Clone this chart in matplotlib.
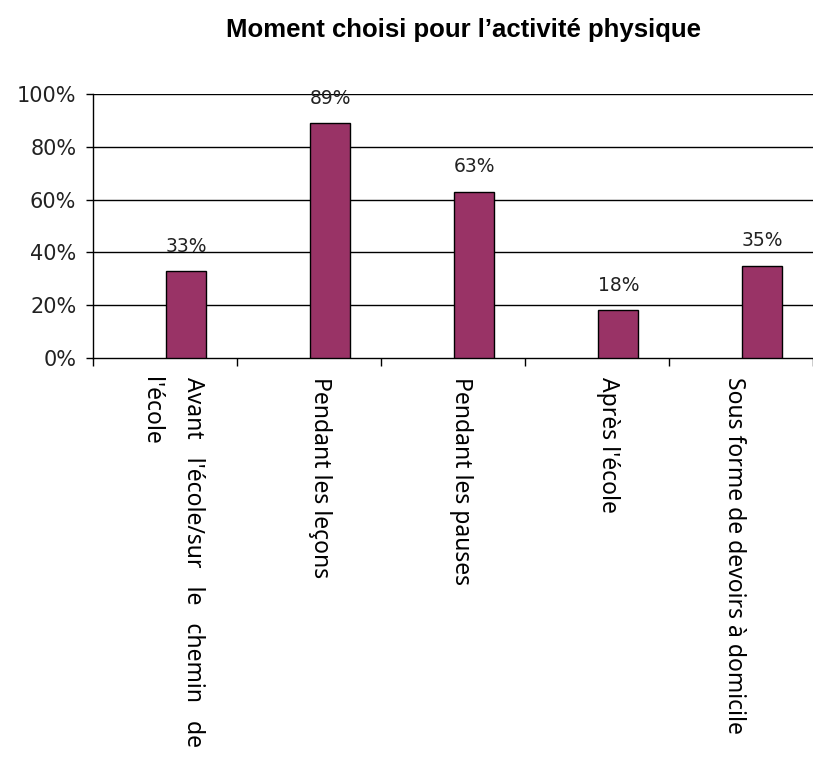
import numpy as np
import matplotlib.pyplot as plt

# Données
categories = [
    "Avant   l'école/sur   le   chemin   de\nl'école",
    "Pendant les leçons",
    "Pendant les pauses",
    "Après l'école",
    "Sous forme de devoirs à domicile",
]
valeurs = [33, 89, 63, 18, 35]
yticks = [0, 20, 40, 60, 80, 100]

couleur_barre = '#993366'

fig = plt.figure(figsize=(8.13, 7.6), dpi=100)
ax = fig.add_axes([93 / 813, 1 - 358 / 760, 720 / 813, 264 / 760])

x = np.arange(len(valeurs))
bars = ax.bar(x, valeurs, width=0.28, color=couleur_barre, edgecolor='black',
              linewidth=1.0, zorder=3)

# étiquettes de valeur
for b, v in zip(bars, valeurs):
    ax.annotate(f'{v}%', (b.get_x() + b.get_width() / 2, v),
                xytext=(0, 11), textcoords='offset points',
                ha='center', va='bottom', fontsize=13.5, color='#222222',
                family='DejaVu Sans', zorder=4)

ax.set_xlim(-0.648, 4.317)
ax.set_ylim(0, 100)

# axe y
ax.set_yticks(yticks)
ax.set_yticklabels([f'{t}%' for t in yticks], fontsize=15, family='DejaVu Sans',
                   color='#222222')
ax.tick_params(axis='y', length=5, width=1, pad=7)
for t in yticks[1:]:
    ax.axhline(t, color='black', linewidth=1.0, zorder=1)

# axe x : traits aux limites des catégories
ax.set_xticks(np.arange(6) - 0.648, minor=True)
ax.tick_params(axis='x', which='minor', length=6, width=1, direction='out')

decalage = [-0.10, -0.07, -0.09, -0.07, -0.20]
ax.set_xticks(x + np.array(decalage))
ax.set_xticklabels(categories, rotation=270, fontsize=16.5, family='Noto Sans',
                   va='top', ha='center', multialignment='left', linespacing=2.0)
ax.tick_params(axis='x', which='major', length=0, pad=14)

for side in ['top', 'right']:
    ax.spines[side].set_visible(False)
ax.spines['left'].set_linewidth(1.0)
ax.spines['bottom'].set_linewidth(1.0)

fig.text(0.57, 1 - 30 / 760, "Moment choisi pour l’activité physique",
         ha='center', va='center', fontsize=18.5, fontweight='bold',
         family='Liberation Sans')

fig.savefig('out.png', dpi=100)
